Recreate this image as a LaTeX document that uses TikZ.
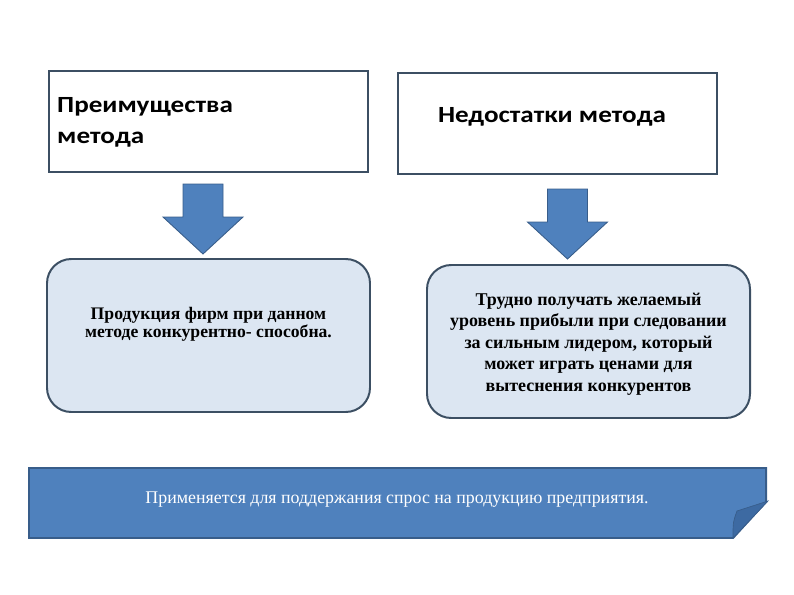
\documentclass[tikz,border=0pt]{standalone}
\usepackage{fontspec}
\setmainfont{Liberation Serif}
\newfontfamily\headfont[FakeStretch=1.17]{Carlito}
\usetikzlibrary{positioning}
\definecolor{boxline}{HTML}{3C4F63}
\definecolor{softblue}{HTML}{DCE6F2}
\definecolor{accent}{HTML}{4F81BD}
\definecolor{accentdark}{HTML}{385D8A}
\definecolor{flapblue}{HTML}{3D6AA2}
\newcommand{\pxu}{0.9068pt}

\begin{document}
\begin{tikzpicture}[x=0.9068pt,y=-0.9068pt,
    headbox/.style={draw=boxline,line width=1.8pt,fill=white,
      minimum width=319*\pxu,minimum height=101*\pxu,inner sep=0pt},
    headtext/.style={font=\headfont\bfseries\fontsize{21}{28}\selectfont,inner xsep=0pt},
    notebox/.style={draw=boxline,line width=1.8pt,fill=softblue,
      rounded corners=22pt,minimum width=323*\pxu,minimum height=153*\pxu},
    notetext/.style={align=center,inner sep=0pt},
    blockarrow/.style={draw=accentdark,line width=0.8pt,fill=accent,line join=miter},
    banner/.style={draw=accentdark,line width=1.8pt,fill=accent}]
  \useasboundingbox (0,0) rectangle (794,595);

  % headers
  \node[headbox] (adv) at (208.5,121.5) {};
  \node[headtext,align=left,anchor=base west] (advtext) at (57,143)
    {Преимущества\\метода};
  \node[headbox] (dis) at (557.5,123.5) {};
  \node[headtext,anchor=base] (distext) at (552,122) {Недостатки метода};

  % block arrows
  \foreach \cx/\ty in {203/184,567.5/189}
    \draw[blockarrow] ({\cx-20},\ty) -- ({\cx+20},\ty) -- ({\cx+20},\ty+33)
      -- ({\cx+40},\ty+33) -- (\cx,\ty+70) -- ({\cx-40},\ty+33)
      -- ({\cx-20},\ty+33) -- cycle;

  % notes
  \node[notebox] (advnote) at (208.5,335.5) {};
  \node[notetext,font=\bfseries\fontsize{16}{16.5}\selectfont] (advnotetext) at (208.5,324)
    {Продукция фирм при данном\\методе конкурентно- способна.};
  \node[notebox] (disnote) at (588.5,341.5) {};
  \node[notetext,font=\bfseries\fontsize{16.3}{19.5}\selectfont] (disnotetext) at (588.5,344)
    {Трудно получать желаемый\\уровень прибыли при следовании\\за сильным лидером, который\\может играть ценами для\\вытеснения конкурентов};

  % banner
  \draw[banner] (29,468) -- (766,468) -- (766,502) -- (733,538) -- (29,538) -- cycle;
  \draw[fill=flapblue,draw=accentdark,line width=0.6pt] (733,538) .. controls (733,522) .. (737,511)
    -- (768,501) -- cycle;
  \node[anchor=base,text=white,font=\fontsize{16.2}{18}\selectfont] (usage) at (397,503)
    {Применяется для поддержания спрос на продукцию предприятия.};
\end{tikzpicture}
\end{document}
